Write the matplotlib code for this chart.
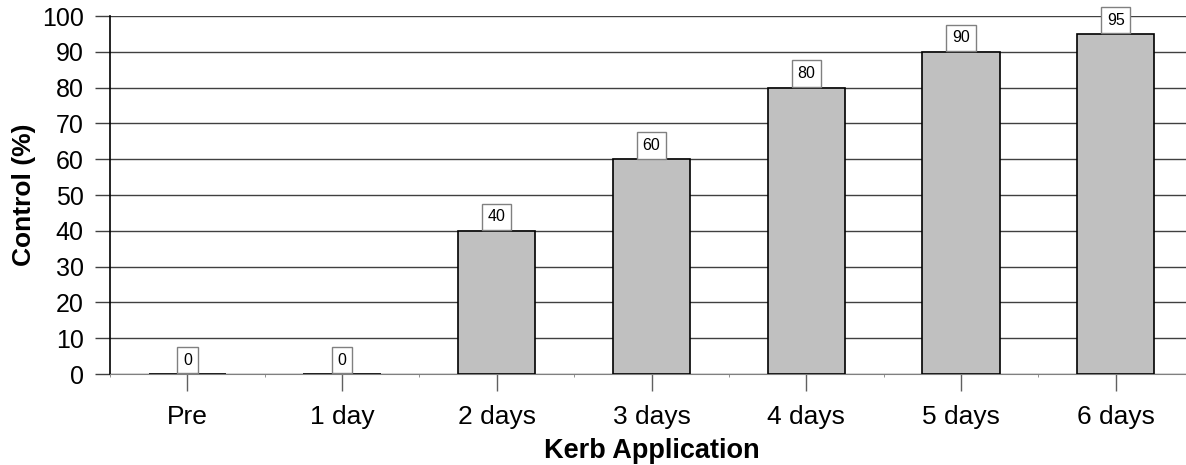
import matplotlib
matplotlib.use("Agg")
import matplotlib.pyplot as plt
import numpy as np

categories = ["Pre", "1 day", "2 days", "3 days", "4 days", "5 days", "6 days"]
control = [0, 0, 40, 60, 80, 90, 95]
yticks = [0, 10, 20, 30, 40, 50, 60, 70, 80, 90, 100]

plt.rcParams["font.family"] = ["Liberation Sans", "DejaVu Sans"]

fig = plt.figure(figsize=(11.86, 4.65), dpi=100)
# axes run past the right edge like the cropped original
ax = fig.add_axes([110 / 1186, 1 - 374 / 465, 1083 / 1186, 358 / 465])

x = np.arange(len(categories))
ax.bar(x, control, width=0.5, color="#c0c0c0", edgecolor="black", linewidth=1.2, zorder=3)

# value boxes above the bars
for xi, v in zip(x, control):
    ax.annotate(str(v), (xi, v), xytext=(0, 10), textcoords="offset points",
                ha="center", va="center", fontsize=11.5,
                bbox=dict(boxstyle="square,pad=0.36", fc="white", ec="#808080", lw=1),
                zorder=5)

ax.set_xlim(-0.5, 6.5)
ax.set_ylim(0, 100)
ax.set_yticks(yticks)
ax.set_xticks(x)
ax.set_xticklabels(categories)
ax.set_xticks(np.arange(-0.5, 7, 1), minor=True)
ax.tick_params(axis="x", which="minor", length=2, color="#808080", direction="out")

ax.yaxis.grid(True, color="#404040", linewidth=1, zorder=0)
ax.set_axisbelow(True)

for s in ["top", "right"]:
    ax.spines[s].set_visible(False)
ax.spines["left"].set_color("black")
ax.spines["left"].set_linewidth(1.2)
ax.spines["bottom"].set_color("#808080")

ax.tick_params(axis="y", which="major", length=11, width=1, labelsize=18, pad=8, color="#404040")
ax.tick_params(axis="x", which="major", length=12, width=1, labelsize=19, pad=10, color="#606060")

ax.set_xlabel("Kerb Application", fontsize=19.5, fontweight="bold", labelpad=7)
ax.set_ylabel("Control (%)", fontsize=19, fontweight="bold", labelpad=4)

plt.savefig("out.png", dpi=100)
plt.close()
